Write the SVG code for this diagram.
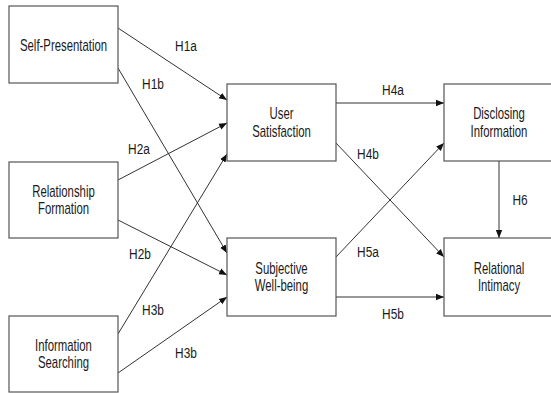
<svg xmlns="http://www.w3.org/2000/svg" width="551" height="393" viewBox="0 0 551 393">
<style>
.box{fill:#fff;stroke:#555;stroke-width:1.2}
.t{font-family:"Liberation Sans",Arial,sans-serif;font-size:16px;fill:#1a1a1a;text-anchor:middle}
.l{font-family:"Liberation Sans",Arial,sans-serif;font-size:14.5px;fill:#1a1a1a;text-anchor:middle}
.c{stroke:#333;stroke-width:1;fill:none;marker-end:url(#ah)}
</style>
<defs>
<marker id="ah" markerUnits="userSpaceOnUse" markerWidth="8" markerHeight="8" refX="8" refY="4" orient="auto">
<path d="M0,0.8 L8,4 L0,7.2 Z" fill="#111"/>
</marker>
</defs>
<rect width="551" height="393" fill="#fff"/>
<g id="connectors">
<line class="c" x1="118" y1="28" x2="227" y2="100"/>
<line class="c" x1="118" y1="68" x2="227" y2="253"/>
<line class="c" x1="118" y1="180" x2="227" y2="123"/>
<line class="c" x1="118" y1="220" x2="227" y2="275"/>
<line class="c" x1="118" y1="334" x2="227" y2="154"/>
<line class="c" x1="118" y1="373" x2="227" y2="297"/>
<line class="c" x1="336" y1="103" x2="444" y2="103"/>
<line class="c" x1="336" y1="143" x2="444" y2="257"/>
<line class="c" x1="336" y1="257" x2="444" y2="143"/>
<line class="c" x1="336" y1="297" x2="444" y2="297"/>
<line class="c" x1="499" y1="161" x2="499" y2="238"/>
<text class="l" transform="translate(186 50.5) scale(0.82 1)">H1a</text>
<text class="l" transform="translate(153 88.5) scale(0.82 1)">H1b</text>
<text class="l" transform="translate(139 153.5) scale(0.82 1)">H2a</text>
<text class="l" transform="translate(140 258.5) scale(0.82 1)">H2b</text>
<text class="l" transform="translate(153 314.5) scale(0.82 1)">H3b</text>
<text class="l" transform="translate(186 357.5) scale(0.82 1)">H3b</text>
<text class="l" transform="translate(393 94.5) scale(0.82 1)">H4a</text>
<text class="l" transform="translate(368 158.5) scale(0.82 1)">H4b</text>
<text class="l" transform="translate(368 256.5) scale(0.82 1)">H5a</text>
<text class="l" transform="translate(393 318.5) scale(0.82 1)">H5b</text>
<text class="l" transform="translate(520 204.5) scale(0.82 1)">H6</text>
</g>
<g id="self-presentation">
<rect class="box" x="9" y="6" width="109" height="77"/>
<text class="t" transform="translate(63.5 50.5) scale(0.71 1)">Self-Presentation</text>
</g>
<g id="relationship-formation">
<rect class="box" x="9" y="162" width="109" height="76"/>
<text class="t" transform="translate(63.5 196.5) scale(0.71 1)">Relationship</text>
<text class="t" transform="translate(63.5 214) scale(0.71 1)">Formation</text>
</g>
<g id="information-searching">
<rect class="box" x="9" y="316" width="109" height="76"/>
<text class="t" transform="translate(63.5 350.5) scale(0.71 1)">Information</text>
<text class="t" transform="translate(63.5 368) scale(0.71 1)">Searching</text>
</g>
<g id="user-satisfaction">
<rect class="box" x="227" y="84" width="109" height="77"/>
<text class="t" transform="translate(281.5 119) scale(0.71 1)">User</text>
<text class="t" transform="translate(281.5 136.5) scale(0.71 1)">Satisfaction</text>
</g>
<g id="subjective-well-being">
<rect class="box" x="227" y="238" width="109" height="78"/>
<text class="t" transform="translate(281.5 273.5) scale(0.71 1)">Subjective</text>
<text class="t" transform="translate(281.5 291) scale(0.71 1)">Well-being</text>
</g>
<g id="disclosing-information">
<rect class="box" x="444" y="84" width="112" height="77"/>
<text class="t" transform="translate(499 119) scale(0.71 1)">Disclosing</text>
<text class="t" transform="translate(499 136.5) scale(0.71 1)">Information</text>
</g>
<g id="relational-intimacy">
<rect class="box" x="444" y="238" width="112" height="78"/>
<text class="t" transform="translate(499 273.5) scale(0.71 1)">Relational</text>
<text class="t" transform="translate(499 291) scale(0.71 1)">Intimacy</text>
</g>
</svg>
